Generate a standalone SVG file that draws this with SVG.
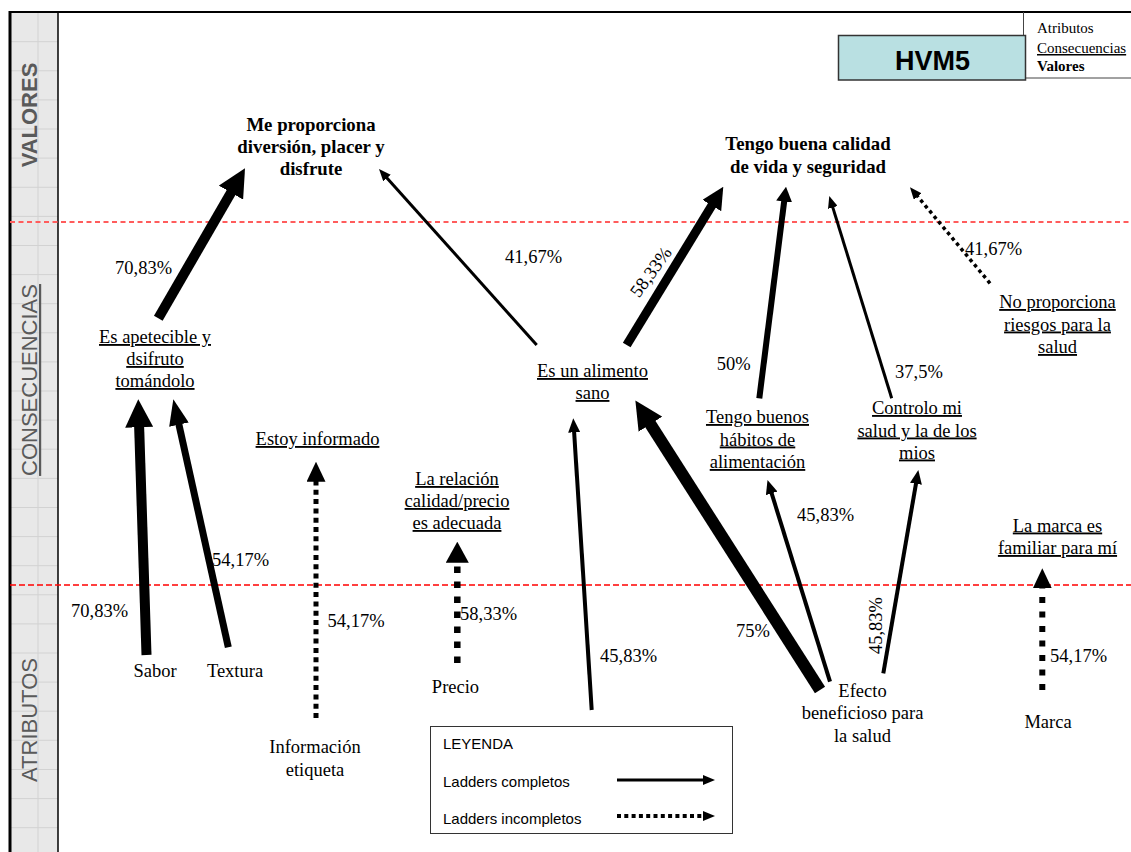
<svg xmlns="http://www.w3.org/2000/svg" width="1131" height="852" viewBox="0 0 1131 852">
  <style>
    .t { font-family: "Liberation Serif", "Times New Roman", serif; font-size: 18.5px; fill: #000; }
    .v { font-weight: bold; text-anchor: middle; font-size: 18.8px; }
    .c { text-anchor: middle; text-decoration: underline; }
    .a { text-anchor: middle; }
    .band { font-family: "Liberation Sans", Arial, sans-serif; font-size: 22px; fill: #5a5a5a; text-anchor: middle; }
    .leg { font-family: "Liberation Sans", Arial, sans-serif; font-size: 15px; fill: #000; }
    .key { font-family: "Liberation Serif", "Times New Roman", serif; font-size: 15px; fill: #000; }
    .ln { fill: none; stroke: #000; stroke-linecap: butt; }
  </style>
  <defs>
    <!-- arrowheads; the path end sits 60% of the head length behind the tip -->
    <marker id="ah-xl" markerUnits="userSpaceOnUse" viewBox="0 0 28 28" markerWidth="28" markerHeight="28" refX="11.2" refY="14" orient="auto">
      <path d="M0,0 L28,14 L0,28 z" fill="#000"/>
    </marker>
    <marker id="ah-l" markerUnits="userSpaceOnUse" viewBox="0 0 22 22" markerWidth="22" markerHeight="22" refX="8.8" refY="11" orient="auto">
      <path d="M0,0 L22,11 L0,22 z" fill="#000"/>
    </marker>
    <marker id="ah-lt" markerUnits="userSpaceOnUse" viewBox="0 0 26 20" markerWidth="26" markerHeight="20" refX="10.4" refY="10" orient="auto">
      <path d="M0,0 L26,10 L0,20 z" fill="#000"/>
    </marker>
    <marker id="ah-d" markerUnits="userSpaceOnUse" viewBox="0 0 20 19" markerWidth="20" markerHeight="19" refX="8" refY="9.5" orient="auto">
      <path d="M0,0 L20,9.5 L0,19 z" fill="#000"/>
    </marker>
    <marker id="ah-dl" markerUnits="userSpaceOnUse" viewBox="0 0 21 23" markerWidth="21" markerHeight="23" refX="8.4" refY="11.5" orient="auto">
      <path d="M0,0 L21,11.5 L0,23 z" fill="#000"/>
    </marker>
    <marker id="ah-m" markerUnits="userSpaceOnUse" viewBox="0 0 15 16" markerWidth="15" markerHeight="16" refX="6" refY="8" orient="auto">
      <path d="M0,0 L15,8 L0,16 z" fill="#000"/>
    </marker>
    <marker id="ah-s" markerUnits="userSpaceOnUse" viewBox="0 0 14 12" markerWidth="14" markerHeight="12" refX="5.6" refY="6" orient="auto">
      <path d="M0,0 L14,6 L0,12 z" fill="#000"/>
    </marker>
    <marker id="ah-xs" markerUnits="userSpaceOnUse" viewBox="0 0 12 10" markerWidth="12" markerHeight="10" refX="4.8" refY="5" orient="auto">
      <path d="M0,0 L12,5 L0,10 z" fill="#000"/>
    </marker>
  </defs>

  <rect x="0" y="0" width="1131" height="852" fill="#fff"/>

  <!-- level band on the left -->
  <g id="band">
    <rect x="10" y="12" width="48" height="840" fill="#e8e8e8"/>
    <path d="M38,12 V852 M10,41.7 H58 M10,70.8 H58 M10,99.9 H58 M10,129 H58 M10,158.1 H58 M10,187.3 H58 M10,216.4 H58 M10,245.5 H58 M10,274.6 H58 M10,303.7 H58 M10,332.8 H58 M10,361.9 H58 M10,391 H58 M10,420.1 H58 M10,449.2 H58 M10,478.4 H58 M10,507.5 H58 M10,536.6 H58 M10,565.7 H58 M10,594.8 H58 M10,623.9 H58 M10,653 H58 M10,682.1 H58 M10,711.2 H58 M10,740.3 H58 M10,769.5 H58 M10,798.6 H58 M10,827.7 H58" stroke="#d2d2d2" stroke-width="1" fill="none"/>
    <text class="band" font-weight="bold" transform="translate(37,115) rotate(-90)">VALORES</text>
    <text class="band" text-decoration="underline" transform="translate(37,380) rotate(-90)">CONSECUENCIAS</text>
    <text class="band" transform="translate(37,720) rotate(-90)">ATRIBUTOS</text>
  </g>

  <!-- frame -->
  <g id="frame">
    <line x1="10" y1="12" x2="1131" y2="12" stroke="#000" stroke-width="2"/>
    <line x1="10" y1="11" x2="10" y2="852" stroke="#000" stroke-width="3"/>
    <line x1="58" y1="12" x2="58" y2="852" stroke="#000" stroke-width="1.5"/>
    <line x1="10" y1="222" x2="1131" y2="222" stroke="#ff5c5c" stroke-width="2" stroke-dasharray="5 3.5"/>
    <line x1="10" y1="585" x2="1131" y2="585" stroke="#ff0000" stroke-width="1.3" stroke-dasharray="6 3"/>
  </g>

  <!-- title and level key -->
  <g id="title">
    <line x1="1023.5" y1="12" x2="1023.5" y2="78" stroke="#444" stroke-width="1"/>
    <line x1="1023.5" y1="78" x2="1131" y2="78" stroke="#444" stroke-width="1"/>
    <rect x="838.5" y="35.5" width="187" height="44.5" fill="#b9e0e2" stroke="#333" stroke-width="1.5"/>
    <text x="932.5" y="70" font-family="Liberation Sans, Arial, sans-serif" font-size="27" font-weight="bold" text-anchor="middle" fill="#000">HVM5</text>
    <text class="key" x="1037" y="33">Atributos</text>
    <text class="key" x="1037" y="53" text-decoration="underline">Consecuencias</text>
    <text class="key" x="1037" y="71" font-weight="bold">Valores</text>
  </g>

  <!-- connectors -->
  <g id="connectors">
    <path class="ln" d="M146.5,655 L138.8,416.1" stroke-width="10" marker-end="url(#ah-xl)"/>
    <path class="ln" d="M228.3,647.3 L176.7,414.5" stroke-width="7" marker-end="url(#ah-lt)"/>
    <path class="ln" d="M158.3,318.3 L236.6,182.9" stroke-width="10" marker-end="url(#ah-xl)"/>
    <path class="ln" d="M536.7,345 L383.8,174.4" stroke-width="3" marker-end="url(#ah-xs)"/>
    <path class="ln" d="M626.7,345 L716.4,198" stroke-width="9" marker-end="url(#ah-l)"/>
    <path class="ln" d="M759.3,398.3 L784.9,195.6" stroke-width="6" marker-end="url(#ah-m)"/>
    <path class="ln" d="M891.7,398.3 L831.4,202.9" stroke-width="3" marker-end="url(#ah-xs)"/>
    <path class="ln" d="M990,283.3 L914.6,192.8" stroke-width="3.5" stroke-dasharray="3.5 3.5" marker-end="url(#ah-xs)"/>
    <path class="ln" d="M316,718 L316,473.7" stroke-width="5" stroke-dasharray="5 4.3" marker-end="url(#ah-d)"/>
    <path class="ln" d="M457.3,663 L457.3,554.3" stroke-width="6.5" stroke-dasharray="6.5 8.5" marker-end="url(#ah-dl)"/>
    <path class="ln" d="M591.7,710 L573.8,426.7" stroke-width="4" marker-end="url(#ah-s)"/>
    <path class="ln" d="M820,690 L644.4,414.7" stroke-width="12" marker-end="url(#ah-xl)"/>
    <path class="ln" d="M830,681.7 L770,488" stroke-width="4" marker-end="url(#ah-s)"/>
    <path class="ln" d="M883.3,673.3 L916.9,478.3" stroke-width="4" marker-end="url(#ah-s)"/>
    <path class="ln" d="M1042.3,690 L1042.3,580.3" stroke-width="6" stroke-dasharray="6 8.5" marker-end="url(#ah-d)"/>
  </g>

  <!-- values -->
  <g id="v-diversion">
    <text class="t v" x="311" y="131">Me proporciona</text>
    <text class="t v" x="311" y="153">diversión, placer y</text>
    <text class="t v" x="311" y="175">disfrute</text>
  </g>
  <g id="v-calidad">
    <text class="t v" x="808" y="150">Tengo buena calidad</text>
    <text class="t v" x="808" y="173">de vida y seguridad</text>
  </g>

  <!-- consequences -->
  <g id="c-apetecible">
    <text class="t c" x="155" y="343">Es apetecible y</text>
    <text class="t c" x="155" y="365">dsifruto</text>
    <text class="t c" x="155" y="387">tomándolo</text>
  </g>
  <g id="c-informado">
    <text class="t c" x="317.5" y="445">Estoy informado</text>
  </g>
  <g id="c-relacion">
    <text class="t c" x="457" y="485">La relación</text>
    <text class="t c" x="457" y="507">calidad/precio</text>
    <text class="t c" x="457" y="529">es adecuada</text>
  </g>
  <g id="c-sano">
    <text class="t c" x="592.5" y="377">Es un alimento</text>
    <text class="t c" x="592.5" y="399">sano</text>
  </g>
  <g id="c-habitos">
    <text class="t c" x="757.5" y="423">Tengo buenos</text>
    <text class="t c" x="757.5" y="445.5">hábitos de</text>
    <text class="t c" x="757.5" y="468">alimentación</text>
  </g>
  <g id="c-controlo">
    <text class="t c" x="917" y="414">Controlo mi</text>
    <text class="t c" x="917" y="436.5">salud y la de los</text>
    <text class="t c" x="917" y="458.5">mios</text>
  </g>
  <g id="c-riesgos">
    <text class="t c" x="1057.5" y="308">No proporciona</text>
    <text class="t c" x="1057.5" y="330.5">riesgos para la</text>
    <text class="t c" x="1057.5" y="353">salud</text>
  </g>
  <g id="c-marca">
    <text class="t c" x="1057.5" y="531.5">La marca es</text>
    <text class="t c" x="1057.5" y="554">familiar para mí</text>
  </g>

  <!-- attributes -->
  <g id="a-sabor"><text class="t a" x="155" y="677">Sabor</text></g>
  <g id="a-textura"><text class="t a" x="235" y="677">Textura</text></g>
  <g id="a-etiqueta">
    <text class="t a" x="315" y="753">Información</text>
    <text class="t a" x="315" y="776">etiqueta</text>
  </g>
  <g id="a-precio"><text class="t a" x="455.5" y="693">Precio</text></g>
  <g id="a-efecto">
    <text class="t a" x="862.5" y="697">Efecto</text>
    <text class="t a" x="862.5" y="719">beneficioso para</text>
    <text class="t a" x="862.5" y="742">la salud</text>
  </g>
  <g id="a-marca"><text class="t a" x="1048" y="728">Marca</text></g>

  <!-- link percentages -->
  <g id="percentages">
    <text class="t" x="115" y="274">70,83%</text>
    <text class="t" x="505" y="263">41,67%</text>
    <text class="t" text-anchor="middle" transform="translate(651,272) rotate(-54)" y="6">58,33%</text>
    <text class="t" x="716.7" y="370">50%</text>
    <text class="t" x="895" y="378">37,5%</text>
    <text class="t" x="965" y="255">41,67%</text>
    <text class="t" x="212" y="566">54,17%</text>
    <text class="t" x="71" y="617">70,83%</text>
    <text class="t" x="327.5" y="627">54,17%</text>
    <text class="t" x="460" y="620">58,33%</text>
    <text class="t" x="600" y="662">45,83%</text>
    <text class="t" x="736" y="637">75%</text>
    <text class="t" x="797" y="521">45,83%</text>
    <text class="t" text-anchor="middle" transform="translate(882,625.5) rotate(-90)">45,83%</text>
    <text class="t" x="1050" y="662">54,17%</text>
  </g>

  <!-- legend -->
  <g id="legend">
    <rect x="430.5" y="726.5" width="302" height="107" fill="#fff" stroke="#333" stroke-width="1"/>
    <text class="leg" x="443" y="749">LEYENDA</text>
    <text class="leg" x="443" y="787">Ladders completos</text>
    <text class="leg" x="443" y="824">Ladders incompletos</text>
    <path class="ln" d="M617,780 L707.8,780" stroke-width="3" marker-end="url(#ah-xs)"/>
    <path class="ln" d="M617,816 L707.8,816" stroke-width="4" stroke-dasharray="4 3.3" marker-end="url(#ah-xs)"/>
  </g>
</svg>
